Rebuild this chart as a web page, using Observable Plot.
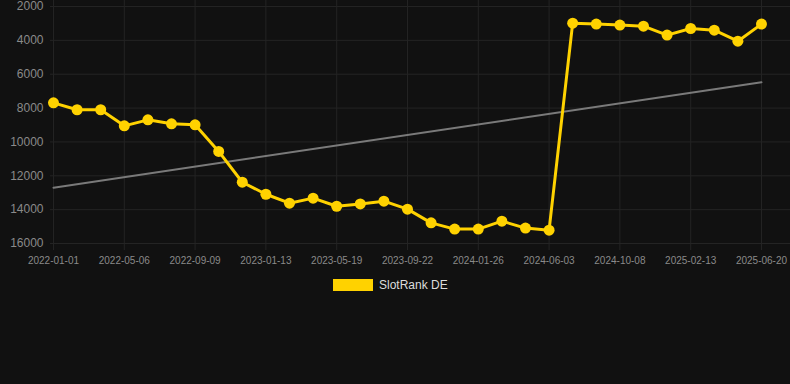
<!DOCTYPE html>
<html>
<head>
<meta charset="utf-8">
<script src="https://cdn.jsdelivr.net/npm/d3@7"></script>
<script src="https://cdn.jsdelivr.net/npm/@observablehq/plot@0.6"></script>
<style>
  html, body { margin: 0; padding: 0; background: #111111; }
  #wrap { position: relative; width: 790px; height: 384px; background: #111111; font-family: Arial, "Liberation Sans", sans-serif; }
  #legend { position: absolute; left: 333px; top: 278px; display: flex; align-items: center; gap: 6px; font-size: 12px; color: #dddddd; }
  #legend .sw { width: 40px; height: 12px; background: #FFD200; }
</style>
</head>
<body>
<div id="wrap">
  <div id="chart"></div>
  <div id="legend"><span class="sw"></span><span>SlotRank DE</span></div>
</div>
<script>
const seriesName = "SlotRank DE";
const tickLabels = ["2022-01-01","2022-05-06","2022-09-09","2023-01-13","2023-05-19","2023-09-22","2024-01-26","2024-06-03","2024-10-08","2025-02-13","2025-06-20"];
const ranks = [7690, 8100, 8100, 9050, 8695, 8930, 8990, 10560, 12380, 13090, 13620,
               13320, 13800, 13660, 13500, 13970, 14780, 15150, 15150, 14680, 15090, 15210,
               2985, 3040, 3100, 3160, 3690, 3300, 3400, 4050, 3040];
const yTicks = [2000, 4000, 6000, 8000, 10000, 12000, 14000, 16000];

const data = ranks.map((v, i) => ({i, v}));
const tickIdx = tickLabels.map((d, k) => k * 3);

const chart = Plot.plot({
  width: 790,
  height: 270,
  marginLeft: 50,
  marginRight: 0,
  marginTop: 0,
  marginBottom: 20,
  style: {background: "transparent", fontFamily: "Arial, 'Liberation Sans', sans-serif"},
  x: {type: "linear", domain: [-0.127, 31.23]},
  y: {reverse: true, domain: [1646, 16413]},
  marks: [
    Plot.gridX(tickIdx, {stroke: "#242424", strokeOpacity: 1, strokeWidth: 1}),
    Plot.gridY(yTicks, {stroke: "#242424", strokeOpacity: 1, strokeWidth: 1}),
    Plot.axisY(yTicks, {tickSize: 0, tickPadding: 7, fontSize: 12, fill: "#8a8a8a", label: null, tickFormat: d => String(d)}),
    Plot.axisX(tickIdx, {tickSize: 0, tickPadding: 6, fontSize: 10, fill: "#8a8a8a", label: null, tickFormat: i => tickLabels[i / 3]}),
    Plot.linearRegressionY(data, {x: "i", y: "v", stroke: "#7a7a7a", strokeWidth: 2, ci: 0}),
    Plot.line(data, {x: "i", y: "v", stroke: "#FFD200", strokeWidth: 3}),
    Plot.dot(data, {x: "i", y: "v", r: 5.5, fill: "#FFD200"})
  ]
});
document.getElementById("chart").appendChild(chart);
</script>
</body>
</html>
